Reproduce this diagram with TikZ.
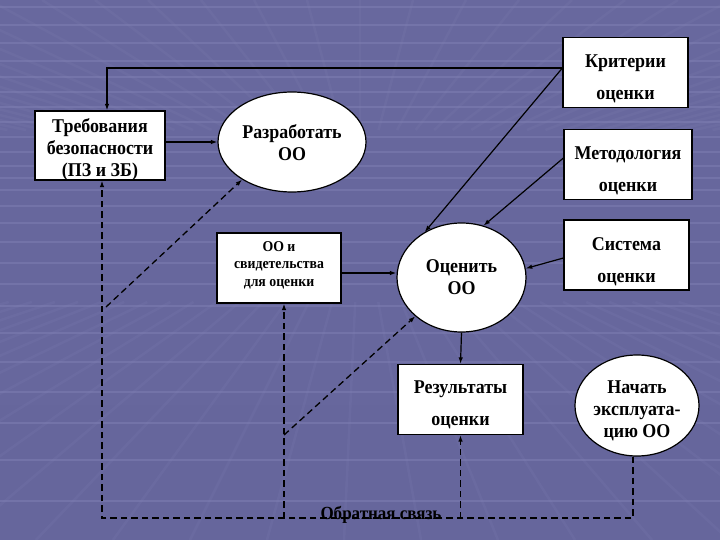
\documentclass[tikz,border=0pt]{standalone}
\usepackage{fontspec}
\setmainfont{Liberation Serif}[FakeStretch=0.92]
\usetikzlibrary{shapes.geometric,arrows.meta,calc}
\definecolor{bgtop}{RGB}{104,104,158}
\definecolor{bgmid}{RGB}{70,70,112}
\definecolor{bgbot}{RGB}{102,102,156}
\definecolor{gridc}{RGB}{128,128,180}
% lines of a box, moved down by #1 inside the box
\newcommand\boxlines[2]{\raisebox{-#1}[\height][\depth]{\begin{tabular}{@{}c@{}}#2\end{tabular}}}

\begin{document}
\begin{tikzpicture}[x=1pt,y=-1pt,font=\bfseries\fontsize{19.5}{22}\selectfont,
  box/.style={draw,line width=1.2pt,fill=white,align=center,inner sep=0pt,minimum width=125pt,minimum height=70pt},
  twoline/.style={font=\bfseries\fontsize{19.5}{32}\selectfont},
  oval/.style={ellipse,draw,line width=1.2pt,fill=white,align=center,inner sep=0pt},
  link/.style={line width=1.2pt,-{Latex[length=6.5pt,width=4.5pt]}},
  fb/.style={link,line width=1.3pt,dash pattern=on 6.5pt off 4pt}]
\useasboundingbox (0,0) rectangle (720,540);
% background
\shade[top color=bgtop,middle color=bgmid,bottom color=bgbot] (0,0) rectangle (720,540);
\begin{scope}
\clip (0,0) rectangle (720,540);
\foreach \y in {7,25,43,61,77,92,107,122,137,152,166,178,190,206,223,242,263,284,306,333,362,392,423,460,501}
  \draw[gridc,line width=2.5pt,opacity=.5] (0,\y) -- (720,\y);
\foreach \k in {-22,...,22}
  \draw[gridc,line width=2.5pt,opacity=.18] ($(360,200)!.35!(360+53*\k,0)$) -- (360+53*\k,0);
\foreach \k in {-16,...,18}
  \draw[gridc,line width=2.5pt,opacity=.18] ($(360,200)!.3!(36+77*\k,540)$) -- (36+77*\k,540);
\end{scope}

\node[box,minimum width=130pt,minimum height=69pt] (treb) at (100,145.5) {\boxlines{5pt}{Требования\\безопасности\\(ПЗ и ЗБ)}};
\node[oval,minimum width=148pt,minimum height=100pt] (razr) at (292,142) {\boxlines{3pt}{Разработать\\ОО}};
\node[box,twoline] (krit) at (625.5,72.5) {\boxlines{5pt}{Критерии\\оценки}};
\node[box,twoline,minimum width=128pt] (metod) at (628,164.5) {\boxlines{5pt}{Методология\\оценки}};
\node[box,twoline] (sist) at (626.5,255) {\boxlines{5pt}{Система\\оценки}};
\node[box,font=\bfseries\fontsize{15}{17.5}\selectfont,minimum width=124pt] (oobox) at (279,268) {\boxlines{-3pt}{ОО и\\свидетельства\\для оценки}};
\node[oval,minimum width=129pt,minimum height=109pt] (ocen) at (461.5,277.5) {Оценить\\ОО};
\node[box,twoline] (rez) at (460.5,399.5) {\boxlines{4pt}{Результаты\\оценки}};
\node[oval,minimum width=124pt,minimum height=101pt] (nach) at (637,405.5) {\boxlines{6pt}{Начать\\эксплуата-\\цию ОО}};

% solid links
\draw[link] ([yshift=4.5pt]krit.west) -| ([xshift=7pt]treb.north);
\draw[link] ([yshift=4.5pt]krit.west) -- (ocen.129);
\draw[link] ([yshift=6.5pt]metod.west) -- (ocen.67);
\draw[link] ([yshift=-3pt]sist.west) -- (ocen.8);
\draw[link] (treb.east |- razr.west) -- (razr.west);
\draw[link] ([yshift=-5pt]oobox.east) coordinate (oo) -- (oo -| ocen.west);
\draw[link] (ocen.south) -- (rez.north);

% feedback
\coordinate (d1) at (106,307);
\coordinate (d2) at (284,435);
\coordinate (fbl) at (102,518);
\draw[fb] (d1) -- (razr.217);
\draw[fb] (d2) -- (ocen.220);
\draw[fb] ([xshift=-4pt]nach.south) |- (fbl) -- ([xshift=2pt]treb.south);
\draw[fb] (d2 |- fbl) -- (d2 |- oobox.south);
\draw[fb] (rez.south |- fbl) -- (rez.south);
\node[font=\bfseries\fontsize{18.5}{20}\selectfont] (fbtext) at (381,515) {Обратная связь};
\end{tikzpicture}
\end{document}
